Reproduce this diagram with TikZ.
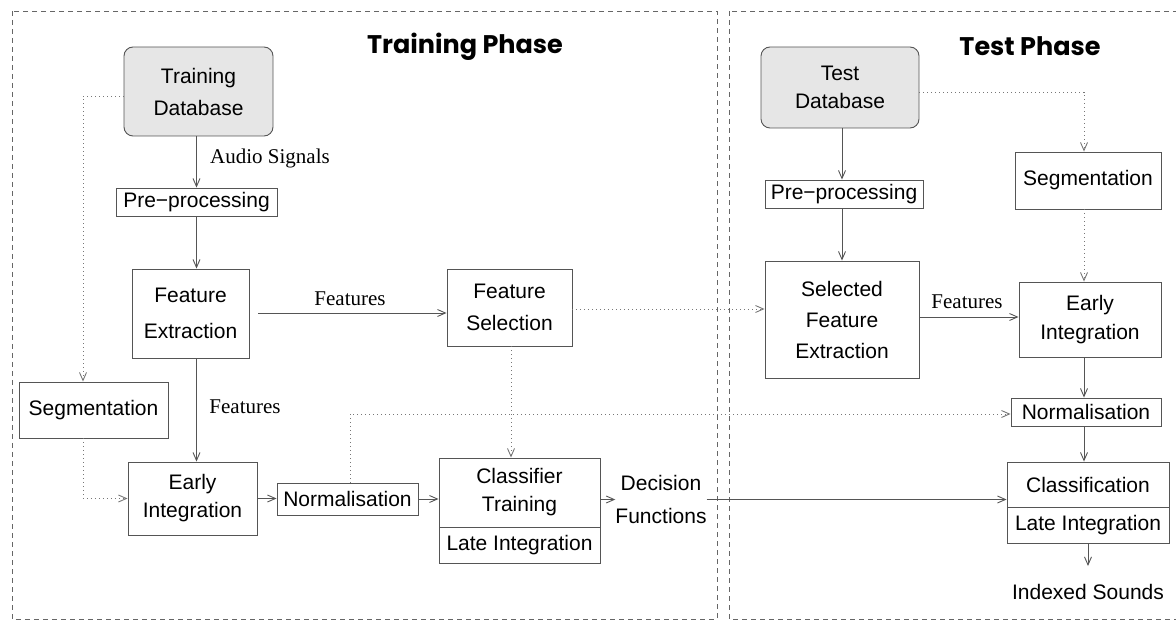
\documentclass[tikz,border=0pt]{standalone}
\usepackage{fontspec}
\setmainfont{Liberation Sans}
\newfontfamily\serifx{Liberation Serif}
\newfontfamily\titlefont{Poppins}
\usetikzlibrary{arrows.meta,calc}
\definecolor{boxc}{HTML}{555555}
\definecolor{linec}{HTML}{555555}
\definecolor{dotc}{HTML}{777777}
\definecolor{dbfill}{HTML}{E6E6E6}
\definecolor{framec}{HTML}{666666}
\tikzset{
  box/.style={draw=boxc, line width=0.9pt, fill=white, inner sep=0pt, align=center,
    font=\fontsize{21}{31}\selectfont},
  db/.style={box, fill=dbfill, rounded corners=9pt},
  arr/.style={draw=linec, line width=0.9pt, -{Straight Barb[length=8pt,width=7pt]}},
  dotarr/.style={arr, draw=dotc, dash pattern=on 1pt off 3pt},
  lbl/.style={font=\serifx\fontsize{21}{31}\selectfont, inner sep=0pt},
  sflbl/.style={font=\fontsize{21}{33}\selectfont, inner sep=0pt, align=center},
  phase/.style={font=\titlefont\bfseries\fontsize{25.5}{28}\selectfont, inner sep=0pt},
  frame/.style={draw=framec, line width=0.8pt, dash pattern=on 5pt off 4pt},
}
\begin{document}
\begin{tikzpicture}[x=1pt,y=-1pt]
\useasboundingbox (0,0) rectangle (1176,620);
% phase frames
\draw[frame] (12,11) rectangle (717,619);
\draw[frame] (729,11) rectangle (1178,619);
\node[phase] (tp) at (465,47) {Training Phase};
\node[phase] (sp) at (1030,46) {Test Phase};

% ---- training phase ----
\node[db, minimum width=149pt, minimum height=89pt, font=\fontsize{21}{32}\selectfont] (TD) at (198.5,91.5) {Training\\Database};
\node[box, minimum width=161pt, minimum height=28pt] (PP1) at (196.5,202) {Pre−processing};
\node[box, minimum width=117pt, minimum height=89pt, font=\fontsize{21}{36}\selectfont] (FE) at (190.5,313.5) {Feature\\Extraction};
\node[box, minimum width=125pt, minimum height=77pt, font=\fontsize{21}{32}\selectfont] (FS) at (509.5,307.5) {Feature\\Selection};
\node[box, minimum width=149pt, minimum height=56pt] (Seg1) at (93.5,410) {Segmentation};
\node[box, minimum width=129pt, minimum height=73pt, font=\fontsize{21}{28}\selectfont] (EI1) at (192.5,498.5) {Early\\Integration};
\node[box, minimum width=141pt, minimum height=32pt] (Norm1) at (347.5,499) {Normalisation};
\node[box, minimum width=161pt, minimum height=69pt, font=\fontsize{21}{28}\selectfont] (CT) at (519.5,492.5) {Classifier\\Training};
\node[box, minimum width=161pt, minimum height=36pt] (CTL) at (519.5,545) {Late Integration};
\node[sflbl] (Dec) at (661,499.5) {Decision\\Functions};

\node[lbl] (la) at (270,158) {Audio Signals};
\node[lbl] (lf1) at (350,299) {Features};
\node[lbl] (lf2) at (245,407) {Features};

% ---- test phase ----
\node[db, minimum width=158pt, minimum height=81pt, font=\fontsize{21}{28}\selectfont] (TD2) at (840,87.5) {Test\\Database};
\node[box, minimum width=158pt, minimum height=28pt] (PP2) at (844,194) {Pre−processing};
\node[box, minimum width=154pt, minimum height=117pt, font=\fontsize{21}{31}\selectfont] (SFE) at (842,319.5) {Selected\\Feature\\Extraction};
\node[box, minimum width=146pt, minimum height=57pt] (Seg2) at (1088,180.5) {Segmentation};
\node[box, minimum width=142pt, minimum height=75pt, font=\fontsize{21}{29}\selectfont] (EI2) at (1090,319.5) {Early\\Integration};
\node[box, minimum width=150pt, minimum height=28pt] (Norm2) at (1086,412) {Normalisation};
\node[box, minimum width=162pt, minimum height=45pt] (Cls) at (1088,484.5) {Classification};
\node[box, minimum width=162pt, minimum height=36pt] (ClsL) at (1088,525) {Late Integration};
\node[sflbl] (Idx) at (1088,592) {Indexed Sounds};
\node[lbl] (lf3) at (967,302) {Features};
\coordinate (idxend) at (1088,566);

% ---- training connectors ----
\draw[arr] (PP1.north |- TD.south) -- (PP1.north);
\draw[arr] (PP1.south) -- (PP1.south |- FE.north);
\draw[arr, shorten <=9pt] ($(FE.east)+(0,-0.5)$) -- ($(FS.west |- FE.east)+(0,-0.5)$);
\draw[dotarr] ($(TD.west)+(0,4.5)$) -| ($(Seg1.north)+(-10.5,0)$);
\draw[dotarr] ($(Seg1.south)+(-10.5,0)$) |- (EI1.west);
\draw[arr] (PP1.south |- FE.south) -- (PP1.south |- EI1.north);
\draw[arr] (EI1.east) -- (EI1.east -| Norm1.west);
\draw[arr] (Norm1.east) -- (Norm1.east -| CT.west);
\draw[arr] (Dec.west -| CT.east) -- (Dec.west);
\draw[arr] (Dec.east) -- (Dec.east -| Cls.west);
\draw[dotarr] ($(FS.south)+(1.5,0)$) -- ($(CT.north)+(-8.5,0)$);
\draw[dotarr] ($(FS.east)+(0,1.5)$) -- ($(SFE.west |- FS.east)+(0,1.5)$);
\draw[dotarr] ($(Norm1.north)+(2.5,0)$) |- ($(Norm2.west)+(0,2)$);

% ---- test connectors ----
\draw[arr] (SFE.north |- TD2.south) -- (SFE.north |- PP2.north);
\draw[arr] (SFE.north |- PP2.south) -- (SFE.north);
\draw[dotarr] ($(TD2.east)+(0,4.5)$) -| ($(Seg2.north)+(-4,0)$);
\draw[dotarr] ($(Seg2.south)+(-4,0)$) -- ($(Seg2.south |- EI2.north)+(-4,0)$);
\draw[arr] ($(SFE.east)+(0,-2.5)$) -- ($(EI2.west)+(0,-2.5)$);
\draw[arr] ($(EI2.south)+(-6,0)$) -- ($(EI2.south |- Norm2.north)+(-6,0)$);
\draw[arr] ($(Norm2.south)+(-2,0)$) -- ($(Norm2.south |- Cls.north)+(-2,0)$);
\draw[arr] (ClsL.south) -- (idxend);
\end{tikzpicture}
\end{document}
